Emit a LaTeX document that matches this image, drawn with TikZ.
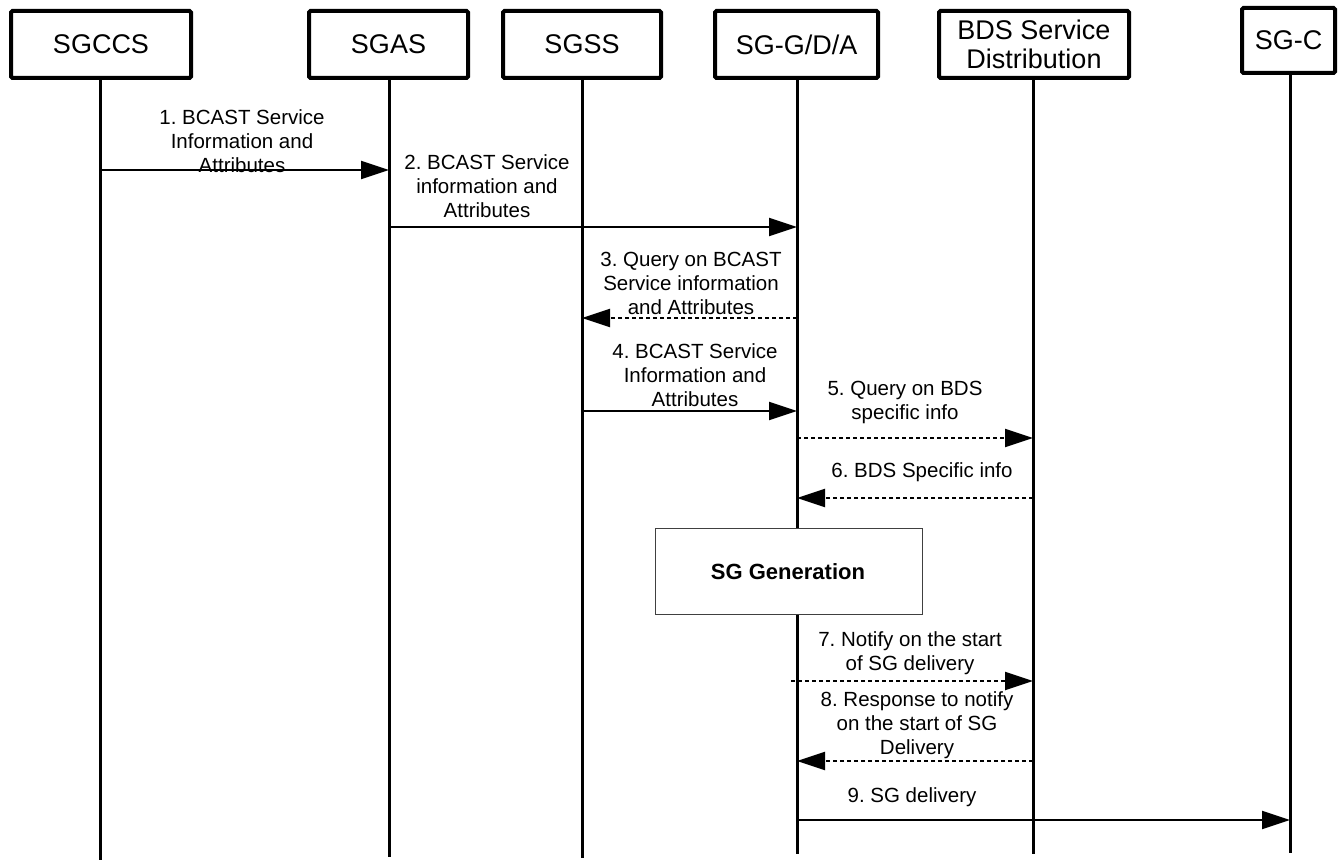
\documentclass[tikz,border=0pt]{standalone}
\usepackage{fontspec}
\setmainfont{Liberation Sans}
\usetikzlibrary{arrows.meta}
\begin{document}
\frenchspacing
\begin{tikzpicture}[x=1pt,y=-1pt,
 actor/.style={draw,line width=4pt,rounded corners=1.5pt,minimum height=67pt,font=\fontsize{27}{29}\selectfont,align=center,inner sep=0pt},
 life/.style={line width=3pt},
 msg/.style={line width=2pt,-{Triangle[length=28pt,width=18pt]}},
 dmsg/.style={msg,line width=2.3pt,dash pattern=on 4pt off 3pt},
 lbl/.style={font=\fontsize{20.5}{24}\selectfont,align=center,inner sep=0pt}]
\useasboundingbox[fill=white] (0,0) rectangle (1341,864);
% actors
\node[actor,minimum width=180pt] (sgccs) at (101,44.5) {SGCCS};
\node[actor,minimum width=159pt] (sgas) at (388.5,44.5) {SGAS};
\node[actor,minimum width=158pt] (sgss) at (582,44.5) {SGSS};
\node[actor,minimum width=163pt] (sggda) at (796.5,44.5) {SG-G/D/A};
\node[actor,minimum width=190pt] (bds) at (1034,44.5) {BDS Service\\Distribution};
\node[actor,minimum width=93pt,minimum height=65pt] (sgc) at (1288.5,40.5) {SG-C};
% lifeline ends
\coordinate (e1) at (100,860);
\coordinate (e2) at (389,857);
\coordinate (e3) at (582,858);
\coordinate (e4) at (797,854);
\coordinate (e5) at (1033,854);
\coordinate (e6) at (1290,853);
\draw[life] (e1 |- sgccs.south) -- (e1);
\draw[life] (e2 |- sgas.south) -- (e2);
\draw[life] (e3 |- sgss.south) -- (e3);
\draw[life] (e4 |- sggda.south) -- (e4);
\draw[life] (e5 |- bds.south) -- (e5);
\draw[life] (e6 |- sgc.south) -- (e6);
% SG generation box
\node[draw=black!75,line width=1pt,fill=white,minimum width=267pt,minimum height=86pt] (gen) at (789,571.5) {};
\node[font=\fontsize{22}{24}\selectfont\bfseries,inner sep=0pt] (genl) at (788,572) {SG Generation};
% messages
\draw[msg] (e1 |- 0,170) -- (e2 |- 0,170);
\node[lbl] (l1) at (242,141) {1. BCAST Service\\Information and\\Attributes};
\draw[msg] (e2 |- 0,227) -- (e4 |- 0,227);
\node[lbl] (l2) at (487,186) {2. BCAST Service\\information and\\Attributes};
\draw[dmsg] (e4 |- 0,318) -- (e3 |- 0,318);
\node[lbl] (l3) at (691,283) {3. Query on BCAST\\Service information\\and Attributes};
\draw[msg] (e3 |- 0,411) -- (e4 |- 0,411);
\node[lbl] (l4) at (695,375) {4. BCAST Service\\Information and\\Attributes};
\draw[dmsg] (e4 |- 0,438) -- (e5 |- 0,438);
\node[lbl] (l5) at (905,402) {5. Query on BDS\\specific info};
\draw[dmsg] (e5 |- 0,498) -- (e4 |- 0,498);
\node[lbl] (l6) at (922,472) {6. BDS Specific info};
\draw[dmsg] ([xshift=-6pt]e4 |- 0,681) -- (e5 |- 0,681);
\node[lbl] (l7) at (910,653) {7. Notify on the start\\of SG delivery};
\draw[dmsg] (e5 |- 0,761) -- (e4 |- 0,761);
\node[lbl] (l8) at (917,725) {8. Response to notify\\on the start of SG\\Delivery};
\draw[msg] (e4 |- 0,820) -- (e6 |- 0,820);
\node[lbl] (l9) at (912,797) {9. SG delivery};
\end{tikzpicture}
\end{document}
